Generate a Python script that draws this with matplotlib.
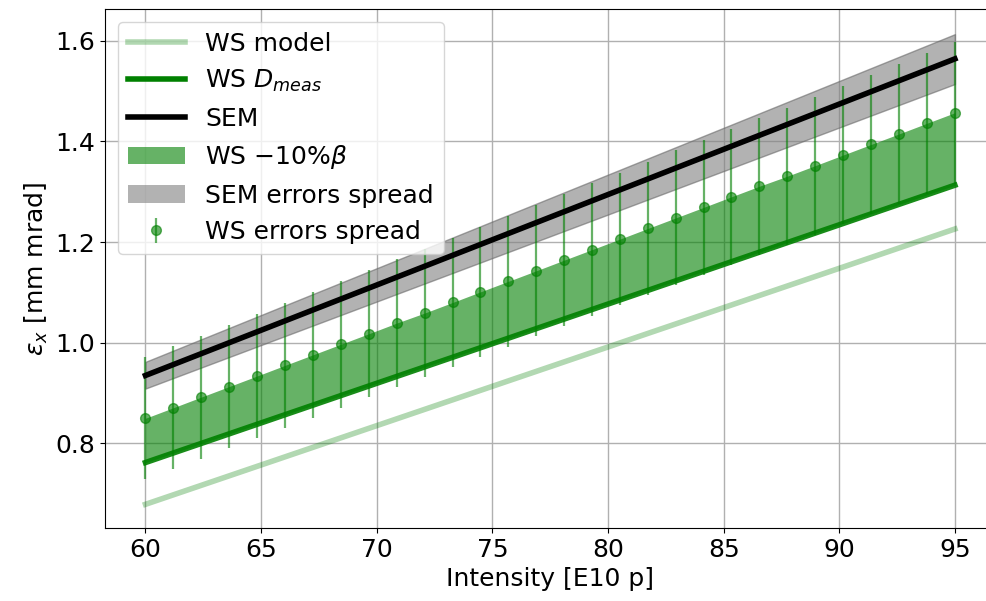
import matplotlib.pyplot as plt
from matplotlib.patches import Patch
from matplotlib.lines import Line2D

# line endpoints (straight lines)
line_x = [60.0, 95.0]
ws_model = [0.679, 1.226]
ws_dmeas = [0.762, 1.313]
sem = [0.935, 1.564]
sem_lo = [0.909, 1.514]
sem_hi = [0.962, 1.613]

# WS errors spread points
pts_x = [60.0, 61.21, 62.41, 63.62, 64.83, 66.03, 67.24, 68.45, 69.66, 70.86,
         72.07, 73.28, 74.48, 75.69, 76.90, 78.10, 79.31, 80.52, 81.72, 82.93,
         84.14, 85.34, 86.55, 87.76, 88.97, 90.17, 91.38, 92.59, 93.79, 95.0]
pts_y = [0.850, 0.871, 0.892, 0.913, 0.934, 0.955, 0.976, 0.997, 1.018, 1.039,
         1.059, 1.080, 1.101, 1.122, 1.143, 1.164, 1.185, 1.206, 1.227, 1.248,
         1.269, 1.290, 1.311, 1.331, 1.352, 1.373, 1.394, 1.415, 1.436, 1.457]
pts_err = [0.121, 0.122, 0.122, 0.123, 0.124, 0.124, 0.125, 0.126, 0.126, 0.127,
           0.128, 0.128, 0.129, 0.130, 0.130, 0.131, 0.132, 0.132, 0.133, 0.134,
           0.134, 0.135, 0.136, 0.136, 0.137, 0.138, 0.138, 0.139, 0.140, 0.141]
# lower edge of the WS -10% beta band (on WS D_meas line)
band_lo = [0.762, 0.781, 0.800, 0.819, 0.838, 0.857, 0.876, 0.895, 0.914, 0.933,
           0.952, 0.971, 0.990, 1.009, 1.028, 1.047, 1.066, 1.085, 1.104, 1.123,
           1.142, 1.161, 1.180, 1.199, 1.218, 1.237, 1.256, 1.275, 1.294, 1.313]

fig = plt.figure(figsize=(9.86, 6.01), dpi=100)
ax = fig.add_axes([0.1065, 0.1215, 0.903, 0.8635])

ax.fill_between(line_x, sem_lo, sem_hi, color="gray", alpha=0.6, edgecolor="dimgray", lw=1)
ax.fill_between(pts_x, band_lo, pts_y, color="green", alpha=0.6, lw=0)
ax.errorbar(pts_x, pts_y, yerr=pts_err, fmt="o", color="green", alpha=0.6,
            ms=7, elinewidth=1.6)
ax.plot(line_x, ws_model, color="green", alpha=0.3, lw=4)
ax.plot(line_x, ws_dmeas, color="green", lw=4, alpha=0.9)
ax.plot(line_x, sem, color="black", lw=4)

ax.set_xlim(58.25, 96.75)
ax.set_ylim(0.632, 1.663)
ax.set_xticks([60, 65, 70, 75, 80, 85, 90, 95])
ax.set_yticks([0.8, 1.0, 1.2, 1.4, 1.6])
ax.tick_params(labelsize=18)
ax.grid(True, color="#b0b0b0", lw=1)
ax.set_axisbelow(True)
ax.set_xlabel("Intensity [E10 p]", fontsize=18)
ax.set_ylabel(r"$\epsilon_x$ [mm mrad]", fontsize=18)

# legend entry for the errorbars gets its vertical bar
leg_eb = ax.errorbar([], [], yerr=[], fmt="o", color="green", alpha=0.6, ms=7, elinewidth=1.6)
handles = [
    Line2D([], [], color="green", alpha=0.3, lw=4),
    Line2D([], [], color="green", lw=4),
    Line2D([], [], color="black", lw=4),
    Patch(facecolor="green", alpha=0.6),
    Patch(facecolor="gray", alpha=0.6),
    leg_eb,
]
labels = ["WS model", r"WS $D_{meas}$", "SEM", r"WS $-10\%\beta$",
          "SEM errors spread", "WS errors spread"]
ax.legend(handles, labels, loc="upper left", fontsize=18, handlelength=2.3,
          labelspacing=0.5)

fig.savefig("out.png", dpi=100)
